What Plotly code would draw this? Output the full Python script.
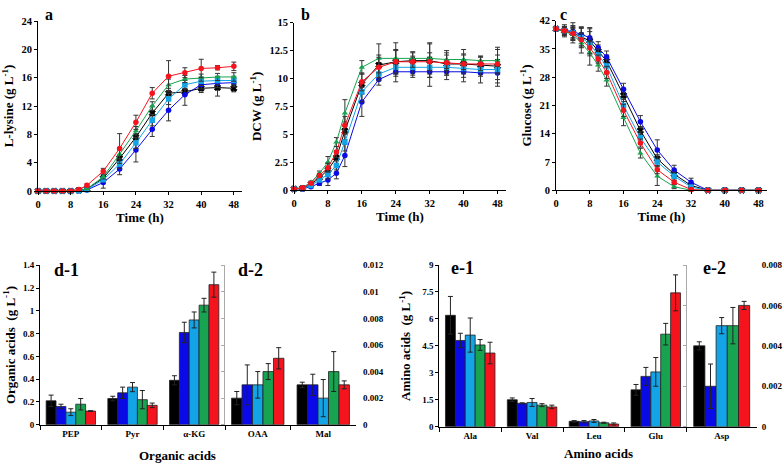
import plotly.graph_objects as go

# ---------------- data ----------------
time_h = [0, 2, 4, 6, 8, 10, 12, 16, 20, 24, 28, 32, 36, 40, 44, 48]
series_names = ["S1", "S2", "S3", "S4", "S5"]
colors = ["#000000", "#0a0ae6", "#12a4e6", "#17a350", "#f5141e"]
symbols = ["x", "circle", "square", "triangle-up", "circle"]

# panel a: L-lysine (g/L)
lys_black = [0, 0, 0, 0, 0, 0.1, 0.3, 1.8, 4.6, 7.6, 11.0, 13.8, 14.0, 14.5, 14.6, 14.5]
lys_blue = [0, 0, 0, 0, 0, 0.05, 0.15, 1.2, 3.1, 5.8, 8.7, 11.4, 13.6, 15.0, 15.2, 15.3]
lys_lblue = [0, 0, 0, 0, 0, 0.05, 0.2, 1.6, 3.8, 6.8, 10.0, 13.0, 15.0, 15.5, 15.6, 15.6]
lys_green = [0, 0, 0, 0, 0, 0.1, 0.3, 2.0, 5.2, 8.5, 12.0, 15.0, 15.8, 16.0, 16.1, 16.1]
lys_red = [0, 0, 0, 0, 0, 0.2, 0.8, 2.8, 6.0, 9.7, 13.8, 16.2, 16.7, 17.3, 17.4, 17.6]
lys_black_err = [0, 0, 0, 0, 0, 0, 0.1, 0.3, 0.5, 0.5, 1.0, 0.7, 0.5, 0.6, 1.2, 0.5]
lys_blue_err = [0, 0, 0, 0, 0, 0, 0.05, 0.8, 0.8, 1.7, 1.0, 1.5, 1.5, 0.6, 0.6, 0.6]
lys_lblue_err = [0, 0, 0, 0, 0, 0, 0.1, 0.3, 0.6, 0.8, 0.8, 0.8, 0.6, 0.6, 0.6, 0.6]
lys_green_err = [0, 0, 0, 0, 0, 0, 0.1, 0.3, 0.6, 0.6, 0.6, 0.8, 0.5, 0.5, 0.5, 0.6]
lys_red_err = [0, 0, 0, 0, 0, 0.1, 0.2, 0.4, 2.1, 1.0, 0.8, 2.2, 0.7, 1.3, 0.3, 0.6]

# panel b: DCW (g/L)
dcw_black = [0.1, 0.15, 0.5, 1.1, 1.8, 2.9, 5.3, 9.5, 11.2, 11.5, 11.6, 11.6, 11.3, 11.3, 11.2, 11.1]
dcw_blue = [0.1, 0.1, 0.3, 0.6, 0.9, 1.5, 3.1, 7.9, 9.9, 10.6, 10.6, 10.6, 10.6, 10.6, 10.5, 10.5]
dcw_lblue = [0.1, 0.15, 0.4, 0.9, 1.4, 2.2, 4.3, 8.8, 10.4, 11.0, 11.0, 11.0, 11.0, 10.9, 10.8, 10.8]
dcw_green = [0.1, 0.2, 0.7, 1.5, 2.5, 4.3, 6.9, 11.0, 11.8, 11.8, 11.8, 11.8, 11.7, 11.7, 11.6, 11.6]
dcw_red = [0.1, 0.2, 0.6, 1.3, 2.0, 3.4, 5.8, 9.7, 11.0, 11.5, 11.5, 11.5, 11.4, 11.3, 11.3, 11.3]
dcw_black_err = [0.05, 0.05, 0.1, 0.2, 0.6, 0.6, 0.8, 0.9, 0.9, 1.1, 0.8, 1.5, 1.0, 0.9, 0.8, 1.5]
dcw_blue_err = [0.05, 0.05, 0.1, 0.2, 0.5, 0.5, 1.0, 1.3, 0.5, 0.9, 0.5, 1.3, 0.7, 0.9, 0.9, 1.2]
dcw_lblue_err = [0.05, 0.05, 0.1, 0.2, 0.4, 0.4, 0.8, 0.9, 0.6, 0.8, 0.7, 0.9, 0.7, 0.8, 0.6, 0.9]
dcw_green_err = [0.05, 0.05, 0.1, 0.2, 0.5, 0.4, 1.2, 0.6, 1.3, 1.4, 0.5, 1.4, 0.8, 0.9, 0.4, 1.2]
dcw_red_err = [0.05, 0.05, 0.1, 0.2, 0.4, 0.5, 0.8, 0.8, 0.9, 1.0, 0.5, 0.8, 0.7, 0.8, 0.6, 0.8]

# panel c: glucose (g/L)
glc_black = [40, 39.5, 39.0, 38.0, 37.0, 34.5, 32.0, 23.5, 14.8, 7.8, 4.0, 1.2, 0, 0, 0, 0]
glc_blue = [40, 39.6, 39.3, 38.6, 37.8, 35.3, 33.0, 25.0, 17.0, 10.0, 5.0, 2.0, 0, 0, 0, 0]
glc_lblue = [40, 39.5, 39.0, 37.8, 36.3, 33.5, 30.8, 21.0, 13.0, 7.0, 3.5, 0.8, 0, 0, 0, 0]
glc_green = [40, 39.3, 38.6, 36.5, 34.0, 31.0, 27.3, 18.0, 9.2, 3.5, 0.9, 0, 0, 0, 0, 0]
glc_red = [40, 39.5, 38.8, 37.3, 35.3, 32.5, 29.2, 19.8, 11.7, 5.1, 2.0, 0.2, 0, 0, 0, 0]
glc_black_err = [0, 1.5, 2.5, 2.5, 3.0, 1.5, 1.5, 1.5, 1.0, 1.0, 1.0, 0.5, 0, 0, 0, 0]
glc_blue_err = [0, 1.0, 1.5, 1.5, 2.5, 1.5, 1.5, 1.5, 1.5, 2.5, 1.2, 1.0, 0, 0, 0, 0]
glc_lblue_err = [0, 1.0, 1.5, 2.5, 3.0, 1.5, 1.5, 1.5, 1.5, 1.0, 1.0, 0.5, 0, 0, 0, 0]
glc_green_err = [0, 1.0, 1.5, 2.5, 3.0, 1.5, 1.5, 2.0, 1.2, 2.3, 0.5, 0.3, 0, 0, 0, 0]
glc_red_err = [0, 1.0, 1.5, 1.5, 1.5, 1.0, 1.5, 1.5, 1.0, 1.0, 0.5, 0.3, 0, 0, 0, 0]

# panel d-1: organic acids (g/L), per series over [PEP, Pyr, a-KG]
oa1_cats = ["PEP", "Pyr", "α-KG"]
oa1_vals = [[0.21, 0.23, 0.39], [0.16, 0.28, 0.81], [0.11, 0.33, 0.92], [0.18, 0.22, 1.05], [0.12, 0.17, 1.23]]
oa1_err = [[0.05, 0.02, 0.04], [0.02, 0.05, 0.09], [0.03, 0.04, 0.07], [0.05, 0.08, 0.06], [0.003, 0.02, 0.11]]
# panel d-2: [OAA, Mal]
oa2_cats = ["OAA", "Mal"]
oa2_vals = [[0.002, 0.003], [0.003, 0.003], [0.003, 0.002], [0.004, 0.004], [0.005, 0.003]]
oa2_err = [[0.0005, 0.0002], [0.0015, 0.0008], [0.001, 0.0014], [0.0006, 0.0015], [0.0008, 0.0003]]
oa2_ticks = [0, 0.002, 0.004, 0.006, 0.008, 0.01, 0.012]
oa2_ticktext = ["0", "0.002", "0.004", "0.006", "0.008", "0.01", "0.012"]

# panel e-1: amino acids (g/L), [Ala, Val, Leu, Glu]
aa1_cats = ["Ala", "Val", "Leu", "Glu"]
aa1_vals = [[6.2, 1.5, 0.3, 2.05], [4.8, 1.3, 0.28, 2.8], [5.1, 1.35, 0.32, 3.05], [4.55, 1.2, 0.22, 5.15], [4.1, 1.1, 0.15, 7.45]]
aa1_err = [[1.05, 0.1, 0.04, 0.3], [0.4, 0.03, 0.06, 0.5], [0.95, 0.22, 0.08, 0.8], [0.3, 0.08, 0.03, 0.6], [0.6, 0.1, 0.06, 1.0]]
# panel e-2: [Asp]
aa2_cats = ["Asp"]
aa2_vals = [[0.004], [0.002], [0.005], [0.005], [0.006]]
aa2_err = [[0.0002], [0.0011], [0.0004], [0.0009], [0.0002]]
aa2_ticks = [0, 0.002, 0.004, 0.006, 0.008]
aa2_ticktext = ["0", "0.002", "0.004", "0.006", "0.008"]

FONT = "Liberation Serif"
W, H = 784, 463

def px_x(a, b):
    return [a / W, b / W]

def px_y(top, bottom):
    return [1 - bottom / H, 1 - top / H]

fig = go.Figure()

line_sets = [
    ("x", "y", [lys_black, lys_blue, lys_lblue, lys_green, lys_red],
     [lys_black_err, lys_blue_err, lys_lblue_err, lys_green_err, lys_red_err]),
    ("x2", "y2", [dcw_black, dcw_blue, dcw_lblue, dcw_green, dcw_red],
     [dcw_black_err, dcw_blue_err, dcw_lblue_err, dcw_green_err, dcw_red_err]),
    ("x3", "y3", [glc_black, glc_blue, glc_lblue, glc_green, glc_red],
     [glc_black_err, glc_blue_err, glc_lblue_err, glc_green_err, glc_red_err]),
]
for xa, ya, vals, errs in line_sets:
    for i in range(5):
        fig.add_trace(go.Scatter(
            x=time_h, y=vals[i], name=series_names[i], xaxis=xa, yaxis=ya,
            mode="lines+markers", showlegend=False, cliponaxis=False,
            line=dict(color=colors[i], width=1),
            marker=dict(symbol=symbols[i], size=5.5, color=colors[i],
                        line=dict(color=colors[i], width=1 if i == 0 else 0)),
            error_y=dict(type="data", array=errs[i], visible=True, color="#333333",
                         thickness=1, width=2.5),
        ))

bar_sets = [
    ("x4", "y4", oa1_cats, oa1_vals, oa1_err),
    ("x5", "y5", oa2_cats, oa2_vals, oa2_err),
    ("x6", "y7", aa1_cats, aa1_vals, aa1_err),
    ("x7", "y8", aa2_cats, aa2_vals, aa2_err),
]
for xa, ya, cats, vals, errs in bar_sets:
    for i in range(5):
        fig.add_trace(go.Bar(
            x=cats, y=vals[i], name=series_names[i], xaxis=xa, yaxis=ya,
            showlegend=False, cliponaxis=False,
            marker=dict(color=colors[i], line=dict(color="#222222", width=0.8)),
            error_y=dict(type="data", array=errs[i], visible=True, color="#222222",
                         thickness=1, width=2.5),
        ))

# empty helper traces so the right-hand label axes get drawn
fig.add_trace(go.Scatter(x=[], y=[], xaxis="x5", yaxis="y6", showlegend=False, hoverinfo="skip"))
fig.add_trace(go.Scatter(x=[], y=[], xaxis="x7", yaxis="y9", showlegend=False, hoverinfo="skip"))

tickfont = dict(family=FONT, size=10.5, color="black", weight="bold")
titlefont = dict(family=FONT, size=13, color="black", weight="bold")

def lin_x(domain, anchor):
    return dict(domain=domain, anchor=anchor, range=[0, 50], tickvals=[0, 8, 16, 24, 32, 40, 48],
                showline=True, linecolor="black", linewidth=1, ticks="outside", ticklen=3,
                tickcolor="black", showgrid=False, zeroline=False, tickfont=tickfont,
                title=dict(text="Time (h)", font=titlefont, standoff=1), automargin=False)

def lin_y(domain, anchor, rng, dtick, title):
    return dict(domain=domain, anchor=anchor, range=rng, dtick=dtick, showline=True,
                linecolor="black", linewidth=1, ticks="outside", ticklen=3, tickcolor="black",
                showgrid=False, zeroline=False, tickfont=tickfont,
                title=dict(text=title, font=titlefont, standoff=4), automargin=False)

def cat_x(domain, anchor, cats):
    return dict(domain=domain, anchor=anchor, type="category", categoryarray=cats,
                showline=True, linecolor="black", linewidth=1, ticks="outside", ticklen=4,
                tickcolor="black", tickson="boundaries", showgrid=False, zeroline=False,
                tickfont=dict(family=FONT, size=9, color="black", weight="bold"), automargin=False)

small_tick = dict(family=FONT, size=9, color="black", weight="bold")

d_dom_y = px_y(265.3, 424.7)
e_dom_y = px_y(265, 426.7)

layout = dict(
    width=W, height=H, margin=dict(l=0, r=0, t=0, b=0),
    paper_bgcolor="white", plot_bgcolor="white",
    barmode="group", bargap=0.2, bargroupgap=0,
    font=dict(family=FONT, color="black"),
    xaxis=lin_x(px_x(38, 242), "y"),
    yaxis=lin_y(px_y(21, 191), "x", [0, 24], 4, "L-lysine (g L<sup>-1</sup>)"),
    xaxis2=lin_x(px_x(294, 506), "y2"),
    yaxis2=lin_y(px_y(22.7, 190), "x2", [0, 15], 2.5, "DCW (g L<sup>-1</sup>)"),
    xaxis3=lin_x(px_x(556, 767), "y3"),
    yaxis3=lin_y(px_y(20.7, 190.3), "x3", [0, 42], 7, "Glucose (g L<sup>-1</sup>)"),
    xaxis4=cat_x(px_x(40, 225), "y4", oa1_cats),
    yaxis4=dict(domain=d_dom_y, anchor="x4", range=[0, 1.4], dtick=0.2, showline=True,
                linecolor="black", linewidth=1, ticks="outside", ticklen=3, tickcolor="black",
                showgrid=False, zeroline=False, tickfont=small_tick,
                title=dict(text="Organic acids  (g L<sup>-1</sup>)", font=titlefont, standoff=4),
                automargin=False),
    xaxis5=cat_x(px_x(225, 356), "y5", oa2_cats),
    yaxis5=dict(domain=d_dom_y, anchor="x5", range=[0, 0.012], tickvals=oa2_ticks,
                showticklabels=False, showline=True, linecolor="#aaaaaa", linewidth=1,
                ticks="outside", ticklen=3, tickcolor="#aaaaaa", showgrid=False,
                zeroline=False, automargin=False),
    yaxis6=dict(overlaying="y5", anchor="x5", side="right", range=[0, 0.012],
                tickvals=oa2_ticks, ticktext=oa2_ticktext, showline=False, ticks="",
                showgrid=False, zeroline=False, tickfont=small_tick, ticklabelstandoff=6,
                automargin=False),
    xaxis6=cat_x(px_x(439.3, 686.7), "y7", aa1_cats),
    yaxis7=dict(domain=e_dom_y, anchor="x6", range=[0, 9], dtick=1.5, showline=True,
                linecolor="black", linewidth=1, ticks="outside", ticklen=3, tickcolor="black",
                showgrid=False, zeroline=False, tickfont=small_tick,
                title=dict(text="Amino acids  (g L<sup>-1</sup>)", font=titlefont, standoff=8),
                automargin=False),
    xaxis7=cat_x(px_x(686.7, 756.7), "y8", aa2_cats),
    yaxis8=dict(domain=e_dom_y, anchor="x7", range=[0, 0.008], tickvals=aa2_ticks,
                showticklabels=False, showline=True, linecolor="#aaaaaa", linewidth=1,
                ticks="outside", ticklen=3, tickcolor="#aaaaaa", showgrid=False,
                zeroline=False, automargin=False),
    yaxis9=dict(overlaying="y8", anchor="x7", side="right", range=[0, 0.008],
                tickvals=aa2_ticks, ticktext=aa2_ticktext, showline=False, ticks="",
                showgrid=False, zeroline=False, tickfont=small_tick, ticklabelstandoff=4,
                automargin=False),
)
fig.update_layout(**layout)

def label(text, xpx, ypx, size):
    fig.add_annotation(text=text, x=xpx / W, y=1 - ypx / H, xref="paper", yref="paper",
                       showarrow=False, xanchor="center", yanchor="middle",
                       font=dict(family=FONT, size=size, color="black", weight="bold"))

label("a", 49, 15, 16)
label("b", 305, 15, 16)
label("c", 563, 15, 16)
label("d-1", 66, 270, 18)
label("d-2", 250, 270, 18)
label("e-1", 463, 268, 18)
label("e-2", 714, 268, 18)
label("Organic acids", 177, 455, 13)
label("Amino acids", 598, 453, 13)

fig.write_html("out.html", config={"displayModeBar": False},
               post_script="document.body.style.margin='0';")
